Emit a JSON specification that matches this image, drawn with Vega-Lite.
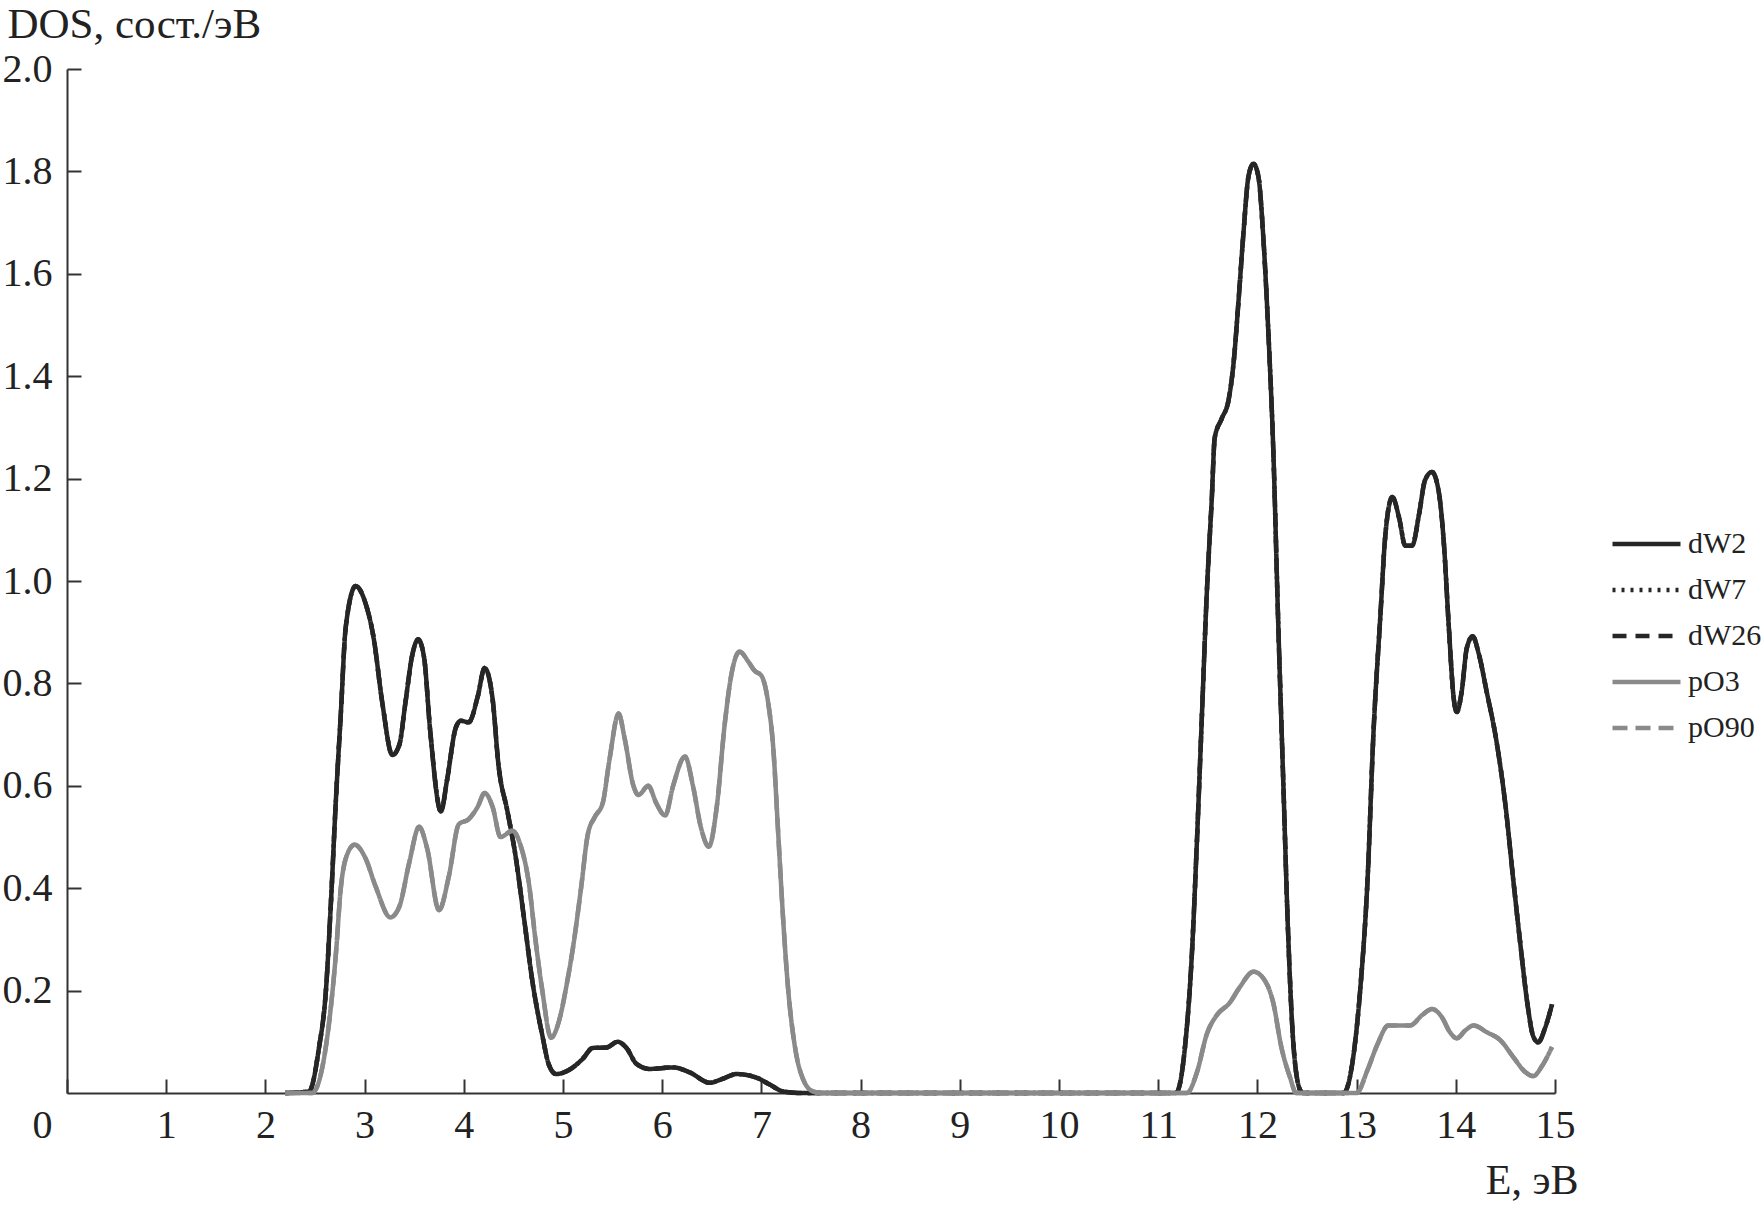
{
  "$schema": "https://vega.github.io/schema/vega-lite/v6.json",
  "autosize": "none",
  "width": 1488,
  "height": 1024,
  "padding": {"left": 67, "top": 69, "right": 207, "bottom": 114},
  "background": "white",
  "config": {
    "view": {"stroke": null},
    "font": "Liberation Serif",
    "axis": {
      "domainColor": "#333333", "domainWidth": 2,
      "tickColor": "#333333", "tickWidth": 2, "tickSize": -14,
      "labelFont": "Liberation Serif", "labelFontSize": 40, "labelColor": "#222222",
      "titleFont": "Liberation Serif", "titleFontSize": 42, "titleFontWeight": "normal", "titleColor": "#222222",
      "grid": false, "labelFlush": false, "labelOverlap": false
    },
    "legend": {
      "orient": "none", "legendX": 1543, "legendY": 460,
      "symbolType": "stroke", "symbolSize": 4624,
      "labelFont": "Liberation Serif", "labelFontSize": 30, "labelColor": "#222222",
      "rowPadding": 16, "clipHeight": 30, "labelOffset": 5
    }
  },
  "data": {"values": [
    {"E": 2.2, "dW2": 0, "dW7": 0, "dW26": 0},
    {"E": 2.44, "dW2": 0.003, "dW7": 0.003, "dW26": 0.003},
    {"E": 2.54, "dW2": 0.088, "dW7": 0.088, "dW26": 0.088},
    {"E": 2.61, "dW2": 0.2, "dW7": 0.2, "dW26": 0.2},
    {"E": 2.66, "dW2": 0.37, "dW7": 0.37, "dW26": 0.37},
    {"E": 2.71, "dW2": 0.57, "dW7": 0.57, "dW26": 0.57},
    {"E": 2.76, "dW2": 0.74, "dW7": 0.74, "dW26": 0.74},
    {"E": 2.81, "dW2": 0.91, "dW7": 0.91, "dW26": 0.91},
    {"E": 2.91, "dW2": 0.99, "dW7": 0.99, "dW26": 0.99},
    {"E": 3.01, "dW2": 0.956, "dW7": 0.956, "dW26": 0.956},
    {"E": 3.09, "dW2": 0.89, "dW7": 0.89, "dW26": 0.89},
    {"E": 3.18, "dW2": 0.76, "dW7": 0.76, "dW26": 0.76},
    {"E": 3.28, "dW2": 0.66, "dW7": 0.66, "dW26": 0.66},
    {"E": 3.35, "dW2": 0.68, "dW7": 0.68, "dW26": 0.68},
    {"E": 3.41, "dW2": 0.76, "dW7": 0.76, "dW26": 0.76},
    {"E": 3.48, "dW2": 0.855, "dW7": 0.855, "dW26": 0.855},
    {"E": 3.54, "dW2": 0.886, "dW7": 0.886, "dW26": 0.886},
    {"E": 3.6, "dW2": 0.85, "dW7": 0.85, "dW26": 0.85},
    {"E": 3.66, "dW2": 0.71, "dW7": 0.71, "dW26": 0.71},
    {"E": 3.77, "dW2": 0.55, "dW7": 0.55, "dW26": 0.55},
    {"E": 3.83, "dW2": 0.61, "dW7": 0.61, "dW26": 0.61},
    {"E": 3.92, "dW2": 0.714, "dW7": 0.714, "dW26": 0.714},
    {"E": 3.97, "dW2": 0.727, "dW7": 0.727, "dW26": 0.727},
    {"E": 4.05, "dW2": 0.724, "dW7": 0.724, "dW26": 0.724},
    {"E": 4.14, "dW2": 0.774, "dW7": 0.774, "dW26": 0.774},
    {"E": 4.21, "dW2": 0.83, "dW7": 0.83, "dW26": 0.83},
    {"E": 4.29, "dW2": 0.77, "dW7": 0.77, "dW26": 0.77},
    {"E": 4.35, "dW2": 0.64, "dW7": 0.64, "dW26": 0.64},
    {"E": 4.44, "dW2": 0.55, "dW7": 0.55, "dW26": 0.55},
    {"E": 4.52, "dW2": 0.465, "dW7": 0.465, "dW26": 0.465},
    {"E": 4.61, "dW2": 0.337, "dW7": 0.337, "dW26": 0.337},
    {"E": 4.69, "dW2": 0.22, "dW7": 0.22, "dW26": 0.22},
    {"E": 4.79, "dW2": 0.114, "dW7": 0.114, "dW26": 0.114},
    {"E": 4.86, "dW2": 0.054, "dW7": 0.054, "dW26": 0.054},
    {"E": 4.93, "dW2": 0.037, "dW7": 0.037, "dW26": 0.037},
    {"E": 5.06, "dW2": 0.045, "dW7": 0.045, "dW26": 0.045},
    {"E": 5.2, "dW2": 0.067, "dW7": 0.067, "dW26": 0.067},
    {"E": 5.3, "dW2": 0.088, "dW7": 0.088, "dW26": 0.088},
    {"E": 5.44, "dW2": 0.089, "dW7": 0.089, "dW26": 0.089},
    {"E": 5.55, "dW2": 0.1, "dW7": 0.1, "dW26": 0.1},
    {"E": 5.64, "dW2": 0.088, "dW7": 0.088, "dW26": 0.088},
    {"E": 5.74, "dW2": 0.057, "dW7": 0.057, "dW26": 0.057},
    {"E": 5.87, "dW2": 0.047, "dW7": 0.047, "dW26": 0.047},
    {"E": 6.11, "dW2": 0.05, "dW7": 0.05, "dW26": 0.05},
    {"E": 6.28, "dW2": 0.04, "dW7": 0.04, "dW26": 0.04},
    {"E": 6.48, "dW2": 0.02, "dW7": 0.02, "dW26": 0.02},
    {"E": 6.6, "dW2": 0.027, "dW7": 0.027, "dW26": 0.027},
    {"E": 6.75, "dW2": 0.037, "dW7": 0.037, "dW26": 0.037},
    {"E": 6.95, "dW2": 0.03, "dW7": 0.03, "dW26": 0.03},
    {"E": 7.08, "dW2": 0.017, "dW7": 0.017, "dW26": 0.017},
    {"E": 7.22, "dW2": 0.003, "dW7": 0.003, "dW26": 0.003},
    {"E": 7.4, "dW2": 0, "dW7": 0, "dW26": 0},
    {"E": 11.18, "dW2": 0, "dW7": 0, "dW26": 0},
    {"E": 11.27, "dW2": 0.09, "dW7": 0.09, "dW26": 0.09},
    {"E": 11.34, "dW2": 0.273, "dW7": 0.273, "dW26": 0.273},
    {"E": 11.39, "dW2": 0.49, "dW7": 0.49, "dW26": 0.49},
    {"E": 11.44, "dW2": 0.734, "dW7": 0.734, "dW26": 0.734},
    {"E": 11.49, "dW2": 0.977, "dW7": 0.977, "dW26": 0.977},
    {"E": 11.54, "dW2": 1.16, "dW7": 1.16, "dW26": 1.16},
    {"E": 11.57, "dW2": 1.28, "dW7": 1.28, "dW26": 1.28},
    {"E": 11.64, "dW2": 1.317, "dW7": 1.317, "dW26": 1.317},
    {"E": 11.71, "dW2": 1.354, "dW7": 1.354, "dW26": 1.354},
    {"E": 11.76, "dW2": 1.426, "dW7": 1.426, "dW26": 1.426},
    {"E": 11.81, "dW2": 1.548, "dW7": 1.548, "dW26": 1.548},
    {"E": 11.86, "dW2": 1.681, "dW7": 1.681, "dW26": 1.681},
    {"E": 11.91, "dW2": 1.79, "dW7": 1.79, "dW26": 1.79},
    {"E": 11.96, "dW2": 1.815, "dW7": 1.815, "dW26": 1.815},
    {"E": 12.01, "dW2": 1.79, "dW7": 1.79, "dW26": 1.79},
    {"E": 12.06, "dW2": 1.67, "dW7": 1.67, "dW26": 1.67},
    {"E": 12.11, "dW2": 1.487, "dW7": 1.487, "dW26": 1.487},
    {"E": 12.16, "dW2": 1.257, "dW7": 1.257, "dW26": 1.257},
    {"E": 12.21, "dW2": 0.917, "dW7": 0.917, "dW26": 0.917},
    {"E": 12.26, "dW2": 0.613, "dW7": 0.613, "dW26": 0.613},
    {"E": 12.31, "dW2": 0.31, "dW7": 0.31, "dW26": 0.31},
    {"E": 12.36, "dW2": 0.103, "dW7": 0.103, "dW26": 0.103},
    {"E": 12.43, "dW2": 0.006, "dW7": 0.006, "dW26": 0.006},
    {"E": 12.46, "dW2": 0, "dW7": 0, "dW26": 0},
    {"E": 12.87, "dW2": 0, "dW7": 0, "dW26": 0},
    {"E": 12.96, "dW2": 0.062, "dW7": 0.062, "dW26": 0.062},
    {"E": 13.04, "dW2": 0.21, "dW7": 0.21, "dW26": 0.21},
    {"E": 13.11, "dW2": 0.415, "dW7": 0.415, "dW26": 0.415},
    {"E": 13.17, "dW2": 0.703, "dW7": 0.703, "dW26": 0.703},
    {"E": 13.24, "dW2": 0.933, "dW7": 0.933, "dW26": 0.933},
    {"E": 13.29, "dW2": 1.09, "dW7": 1.09, "dW26": 1.09},
    {"E": 13.36, "dW2": 1.164, "dW7": 1.164, "dW26": 1.164},
    {"E": 13.43, "dW2": 1.122, "dW7": 1.122, "dW26": 1.122},
    {"E": 13.49, "dW2": 1.069, "dW7": 1.069, "dW26": 1.069},
    {"E": 13.56, "dW2": 1.069, "dW7": 1.069, "dW26": 1.069},
    {"E": 13.63, "dW2": 1.131, "dW7": 1.131, "dW26": 1.131},
    {"E": 13.69, "dW2": 1.197, "dW7": 1.197, "dW26": 1.197},
    {"E": 13.76, "dW2": 1.213, "dW7": 1.213, "dW26": 1.213},
    {"E": 13.83, "dW2": 1.172, "dW7": 1.172, "dW26": 1.172},
    {"E": 13.88, "dW2": 1.073, "dW7": 1.073, "dW26": 1.073},
    {"E": 13.93, "dW2": 0.909, "dW7": 0.909, "dW26": 0.909},
    {"E": 13.98, "dW2": 0.769, "dW7": 0.769, "dW26": 0.769},
    {"E": 14.01, "dW2": 0.744, "dW7": 0.744, "dW26": 0.744},
    {"E": 14.06, "dW2": 0.785, "dW7": 0.785, "dW26": 0.785},
    {"E": 14.11, "dW2": 0.868, "dW7": 0.868, "dW26": 0.868},
    {"E": 14.17, "dW2": 0.892, "dW7": 0.892, "dW26": 0.892},
    {"E": 14.23, "dW2": 0.859, "dW7": 0.859, "dW26": 0.859},
    {"E": 14.31, "dW2": 0.785, "dW7": 0.785, "dW26": 0.785},
    {"E": 14.41, "dW2": 0.687, "dW7": 0.687, "dW26": 0.687},
    {"E": 14.5, "dW2": 0.563, "dW7": 0.563, "dW26": 0.563},
    {"E": 14.58, "dW2": 0.415, "dW7": 0.415, "dW26": 0.415},
    {"E": 14.65, "dW2": 0.292, "dW7": 0.292, "dW26": 0.292},
    {"E": 14.72, "dW2": 0.177, "dW7": 0.177, "dW26": 0.177},
    {"E": 14.78, "dW2": 0.111, "dW7": 0.111, "dW26": 0.111},
    {"E": 14.83, "dW2": 0.099, "dW7": 0.099, "dW26": 0.099},
    {"E": 14.9, "dW2": 0.127, "dW7": 0.127, "dW26": 0.127},
    {"E": 14.97, "dW2": 0.173, "dW7": 0.173, "dW26": 0.173},
    {"E": 2.2, "pO3": 0, "pO90": 0},
    {"E": 2.47, "pO3": 0, "pO90": 0},
    {"E": 2.59, "pO3": 0.067, "pO90": 0.067},
    {"E": 2.66, "pO3": 0.168, "pO90": 0.168},
    {"E": 2.71, "pO3": 0.27, "pO90": 0.27},
    {"E": 2.76, "pO3": 0.4, "pO90": 0.4},
    {"E": 2.81, "pO3": 0.458, "pO90": 0.458},
    {"E": 2.9, "pO3": 0.485, "pO90": 0.485},
    {"E": 3.01, "pO3": 0.458, "pO90": 0.458},
    {"E": 3.11, "pO3": 0.404, "pO90": 0.404},
    {"E": 3.26, "pO3": 0.343, "pO90": 0.343},
    {"E": 3.35, "pO3": 0.364, "pO90": 0.364},
    {"E": 3.45, "pO3": 0.45, "pO90": 0.45},
    {"E": 3.55, "pO3": 0.52, "pO90": 0.52},
    {"E": 3.63, "pO3": 0.478, "pO90": 0.478},
    {"E": 3.75, "pO3": 0.357, "pO90": 0.357},
    {"E": 3.85, "pO3": 0.424, "pO90": 0.424},
    {"E": 3.95, "pO3": 0.525, "pO90": 0.525},
    {"E": 4.05, "pO3": 0.535, "pO90": 0.535},
    {"E": 4.14, "pO3": 0.559, "pO90": 0.559},
    {"E": 4.21, "pO3": 0.586, "pO90": 0.586},
    {"E": 4.29, "pO3": 0.559, "pO90": 0.559},
    {"E": 4.37, "pO3": 0.5, "pO90": 0.5},
    {"E": 4.49, "pO3": 0.512, "pO90": 0.512},
    {"E": 4.57, "pO3": 0.485, "pO90": 0.485},
    {"E": 4.66, "pO3": 0.404, "pO90": 0.404},
    {"E": 4.72, "pO3": 0.303, "pO90": 0.303},
    {"E": 4.79, "pO3": 0.202, "pO90": 0.202},
    {"E": 4.88, "pO3": 0.108, "pO90": 0.108},
    {"E": 4.96, "pO3": 0.141, "pO90": 0.141},
    {"E": 5.04, "pO3": 0.215, "pO90": 0.215},
    {"E": 5.1, "pO3": 0.283, "pO90": 0.283},
    {"E": 5.18, "pO3": 0.397, "pO90": 0.397},
    {"E": 5.25, "pO3": 0.505, "pO90": 0.505},
    {"E": 5.32, "pO3": 0.539, "pO90": 0.539},
    {"E": 5.4, "pO3": 0.566, "pO90": 0.566},
    {"E": 5.47, "pO3": 0.653, "pO90": 0.653},
    {"E": 5.56, "pO3": 0.741, "pO90": 0.741},
    {"E": 5.62, "pO3": 0.694, "pO90": 0.694},
    {"E": 5.71, "pO3": 0.6, "pO90": 0.6},
    {"E": 5.76, "pO3": 0.582, "pO90": 0.582},
    {"E": 5.86, "pO3": 0.6, "pO90": 0.6},
    {"E": 5.94, "pO3": 0.566, "pO90": 0.566},
    {"E": 6.03, "pO3": 0.542, "pO90": 0.542},
    {"E": 6.11, "pO3": 0.6, "pO90": 0.6},
    {"E": 6.23, "pO3": 0.657, "pO90": 0.657},
    {"E": 6.31, "pO3": 0.6, "pO90": 0.6},
    {"E": 6.39, "pO3": 0.519, "pO90": 0.519},
    {"E": 6.47, "pO3": 0.481, "pO90": 0.481},
    {"E": 6.55, "pO3": 0.559, "pO90": 0.559},
    {"E": 6.63, "pO3": 0.72, "pO90": 0.72},
    {"E": 6.7, "pO3": 0.82, "pO90": 0.82},
    {"E": 6.78, "pO3": 0.862, "pO90": 0.862},
    {"E": 6.87, "pO3": 0.842, "pO90": 0.842},
    {"E": 6.93, "pO3": 0.825, "pO90": 0.825},
    {"E": 7.0, "pO3": 0.815, "pO90": 0.815},
    {"E": 7.07, "pO3": 0.76, "pO90": 0.76},
    {"E": 7.12, "pO3": 0.673, "pO90": 0.673},
    {"E": 7.17, "pO3": 0.505, "pO90": 0.505},
    {"E": 7.22, "pO3": 0.337, "pO90": 0.337},
    {"E": 7.27, "pO3": 0.202, "pO90": 0.202},
    {"E": 7.34, "pO3": 0.088, "pO90": 0.088},
    {"E": 7.42, "pO3": 0.027, "pO90": 0.027},
    {"E": 7.52, "pO3": 0.003, "pO90": 0.003},
    {"E": 7.6, "pO3": 0, "pO90": 0},
    {"E": 11.29, "pO3": 0, "pO90": 0},
    {"E": 11.39, "pO3": 0.04, "pO90": 0.04},
    {"E": 11.49, "pO3": 0.115, "pO90": 0.115},
    {"E": 11.59, "pO3": 0.152, "pO90": 0.152},
    {"E": 11.72, "pO3": 0.176, "pO90": 0.176},
    {"E": 11.82, "pO3": 0.206, "pO90": 0.206},
    {"E": 11.96, "pO3": 0.237, "pO90": 0.237},
    {"E": 12.08, "pO3": 0.218, "pO90": 0.218},
    {"E": 12.16, "pO3": 0.176, "pO90": 0.176},
    {"E": 12.24, "pO3": 0.091, "pO90": 0.091},
    {"E": 12.33, "pO3": 0.03, "pO90": 0.03},
    {"E": 12.39, "pO3": 0, "pO90": 0},
    {"E": 13.0, "pO3": 0, "pO90": 0},
    {"E": 13.11, "pO3": 0.045, "pO90": 0.045},
    {"E": 13.21, "pO3": 0.095, "pO90": 0.095},
    {"E": 13.32, "pO3": 0.132, "pO90": 0.132},
    {"E": 13.44, "pO3": 0.132, "pO90": 0.132},
    {"E": 13.54, "pO3": 0.132, "pO90": 0.132},
    {"E": 13.66, "pO3": 0.152, "pO90": 0.152},
    {"E": 13.76, "pO3": 0.164, "pO90": 0.164},
    {"E": 13.86, "pO3": 0.148, "pO90": 0.148},
    {"E": 13.94, "pO3": 0.119, "pO90": 0.119},
    {"E": 14.01, "pO3": 0.107, "pO90": 0.107},
    {"E": 14.1, "pO3": 0.123, "pO90": 0.123},
    {"E": 14.18, "pO3": 0.132, "pO90": 0.132},
    {"E": 14.31, "pO3": 0.119, "pO90": 0.119},
    {"E": 14.45, "pO3": 0.103, "pO90": 0.103},
    {"E": 14.58, "pO3": 0.07, "pO90": 0.07},
    {"E": 14.7, "pO3": 0.041, "pO90": 0.041},
    {"E": 14.78, "pO3": 0.033, "pO90": 0.033},
    {"E": 14.87, "pO3": 0.053, "pO90": 0.053},
    {"E": 14.97, "pO3": 0.09, "pO90": 0.09}
  ]},
  "transform": [
    {"fold": ["dW2", "dW7", "dW26", "pO3", "pO90"], "as": ["series", "value"]},
    {"filter": {"field": "value", "valid": true}}
  ],
  "mark": {"type": "line", "interpolate": "monotone", "strokeCap": "butt"},
  "encoding": {
    "x": {
      "field": "E", "type": "quantitative",
      "scale": {"domain": [0, 15], "nice": false, "zero": false},
      "axis": {
        "values": [0, 1, 2, 3, 4, 5, 6, 7, 8, 9, 10, 11, 12, 13, 14, 15],
        "format": "d",
        "labelPadding": 26,
        "labelOffset": {"condition": {"test": "datum.value === 0", "value": -25}, "value": 0},
        "title": "E, эВ",
        "titleX": 1511, "titleY": 100, "titleAlign": "right", "titleBaseline": "alphabetic", "titleAnchor": null
      }
    },
    "y": {
      "field": "value", "type": "quantitative",
      "scale": {"domain": [0, 2], "nice": false},
      "axis": {
        "values": [0.2, 0.4, 0.6, 0.8, 1.0, 1.2, 1.4, 1.6, 1.8, 2.0],
        "format": ".1f",
        "labelPadding": 29,
        "title": "DOS, сост./эВ",
        "titleFontSize": 43,
        "titleAngle": 0, "titleX": -60, "titleY": -66, "titleAlign": "left", "titleBaseline": "top", "titleAnchor": null
      }
    },
    "color": {
      "field": "series", "type": "nominal",
      "scale": {"domain": ["dW2", "dW7", "dW26", "pO3", "pO90"], "range": ["#262626", "#262626", "#262626", "#8a8a8a", "#8a8a8a"]},
      "legend": {"title": null}
    },
    "strokeDash": {
      "field": "series", "type": "nominal",
      "scale": {"domain": ["dW2", "dW7", "dW26", "pO3", "pO90"], "range": [[1, 0], [3, 6], [14, 9], [1, 0], [15, 8]]},
      "legend": {"title": null}
    },
    "strokeWidth": {
      "field": "series", "type": "nominal",
      "scale": {"domain": ["dW2", "dW7", "dW26", "pO3", "pO90"], "range": [4.5, 4.5, 4.5, 6.5, 5.5]},
      "legend": {"title": null}
    }
  }
}
